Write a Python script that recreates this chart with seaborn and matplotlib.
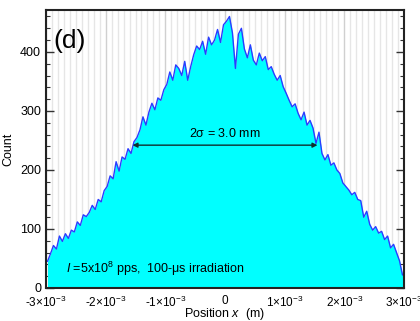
import numpy as np
import pandas as pd
import matplotlib
matplotlib.use("Agg")
import matplotlib.pyplot as plt
import seaborn as sns
from matplotlib.ticker import MultipleLocator

# ---- data (bin centres in mm, counts) ----
bin_start_mm = -2.975
bin_width_mm = 0.05
counts = [
    45, 58, 72, 66, 88, 79, 92, 84, 98, 95,
    112, 106, 124, 121, 128, 140, 133, 150, 146, 165,
    172, 190, 185, 214, 198, 222, 218, 236, 228, 248,
    255, 268, 290, 276, 298, 313, 302, 322, 318, 336,
    345, 366, 352, 378, 372, 360, 384, 352, 375, 395,
    410, 404, 418, 396, 425, 412, 420, 438, 416, 446,
    452, 460, 432, 372, 430, 440, 405, 390, 412, 386,
    378, 398, 385, 392, 370, 375, 362, 352, 360, 341,
    330, 318, 307, 312, 296, 285, 298, 276, 284, 271,
    245, 264, 228, 217, 226, 208, 212, 200, 194, 178,
    172, 166, 158, 162, 150, 148, 120, 130, 108, 98,
    104, 93, 96, 82, 88, 68, 74, 60, 46, 22,
]
x_ticks = [-3e-3, -2e-3, -1e-3, 0, 1e-3, 2e-3, 3e-3]
x_tick_labels = ["-3×10$^{\\mathregular{-3}}$", "-2×10$^{\\mathregular{-3}}$",
                 "-1×10$^{\\mathregular{-3}}$", "0", "1×10$^{\\mathregular{-3}}$",
                 "2×10$^{\\mathregular{-3}}$", "3×10$^{\\mathregular{-3}}$"]
y_ticks = [0, 100, 200, 300, 400]

positions = [(bin_start_mm + i * bin_width_mm) * 1e-3 for i in range(len(counts))]
df = pd.DataFrame({"x": positions, "count": counts})

sns.set_theme(style="white")
plt.rcParams["font.family"] = ["Liberation Sans", "DejaVu Sans"]
plt.rcParams["mathtext.fontset"] = "custom"
plt.rcParams["mathtext.rm"] = "Liberation Sans"
plt.rcParams["mathtext.it"] = "Liberation Sans:italic"
plt.rcParams["mathtext.default"] = "rm"
plt.rcParams["text.color"] = "black"
plt.rcParams["axes.labelcolor"] = "black"

fig = plt.figure(figsize=(4.2, 3.21), dpi=100)
ax = fig.add_axes([46 / 420, 33 / 321, 358 / 420, 278 / 321])

# vertical grid lines
for i in range(-30, 31):
    xv = i * 1e-4
    major = (i % 10 == 0)
    ax.axvline(xv, color="#d0d0d0" if major else "#e6e6e6", lw=1.0, zorder=0)

ax.fill_between(df["x"], df["count"], 0, color="#00ffff", zorder=2, lw=0)
sns.lineplot(data=df, x="x", y="count", ax=ax, color="#2b3cff", lw=1.0, zorder=3)

ax.set_xlim(-3e-3, 3e-3)
ax.set_ylim(0, 471)
ax.set_xticks(x_ticks)
ax.set_xticklabels(x_tick_labels, fontsize=8.5)
ax.set_yticks(y_ticks)
ax.set_yticklabels([str(v) for v in y_ticks], fontsize=9)
ax.xaxis.set_minor_locator(MultipleLocator(1e-4))
ax.yaxis.set_minor_locator(MultipleLocator(20))
ax.tick_params(which="both", direction="in", top=False, right=True, bottom=True, left=True,
               colors="#333333", labelcolor="black")
ax.tick_params(which="major", length=6, width=1.0)
ax.tick_params(which="minor", length=3, width=0.8)
ax.tick_params(axis="x", which="both", colors="#e8ffff", labelcolor="black", pad=5)

for s in ax.spines.values():
    s.set_color("#222222")
    s.set_linewidth(1.5)
    s.set_zorder(5)

ax.set_xlabel(r"Position $\it{x}$  (m)", fontsize=9)
ax.xaxis.set_label_coords(0.5, -0.063)
ax.set_ylabel("Count", fontsize=9, labelpad=4)

ax.text(-2.88e-3, 418, "(d)", fontsize=19, va="center", ha="left", zorder=6)
ax.annotate("", xy=(-1.55e-3, 242), xytext=(1.55e-3, 242),
            arrowprops=dict(arrowstyle="<|-|>", color="#103030", lw=1.0,
                            mutation_scale=7, shrinkA=0, shrinkB=0), zorder=6)
ax.text(0, 250, r"2$\sigma$ = 3.0 mm", fontsize=9, ha="center", va="bottom", zorder=6)
ax.text(-2.67e-3, 33, r"$\it{I}$ =5x10$^{8}$ pps,  100-$\mu$s irradiation",
        fontsize=9, ha="left", va="center", zorder=6)

fig.savefig("out.png", dpi=100)
